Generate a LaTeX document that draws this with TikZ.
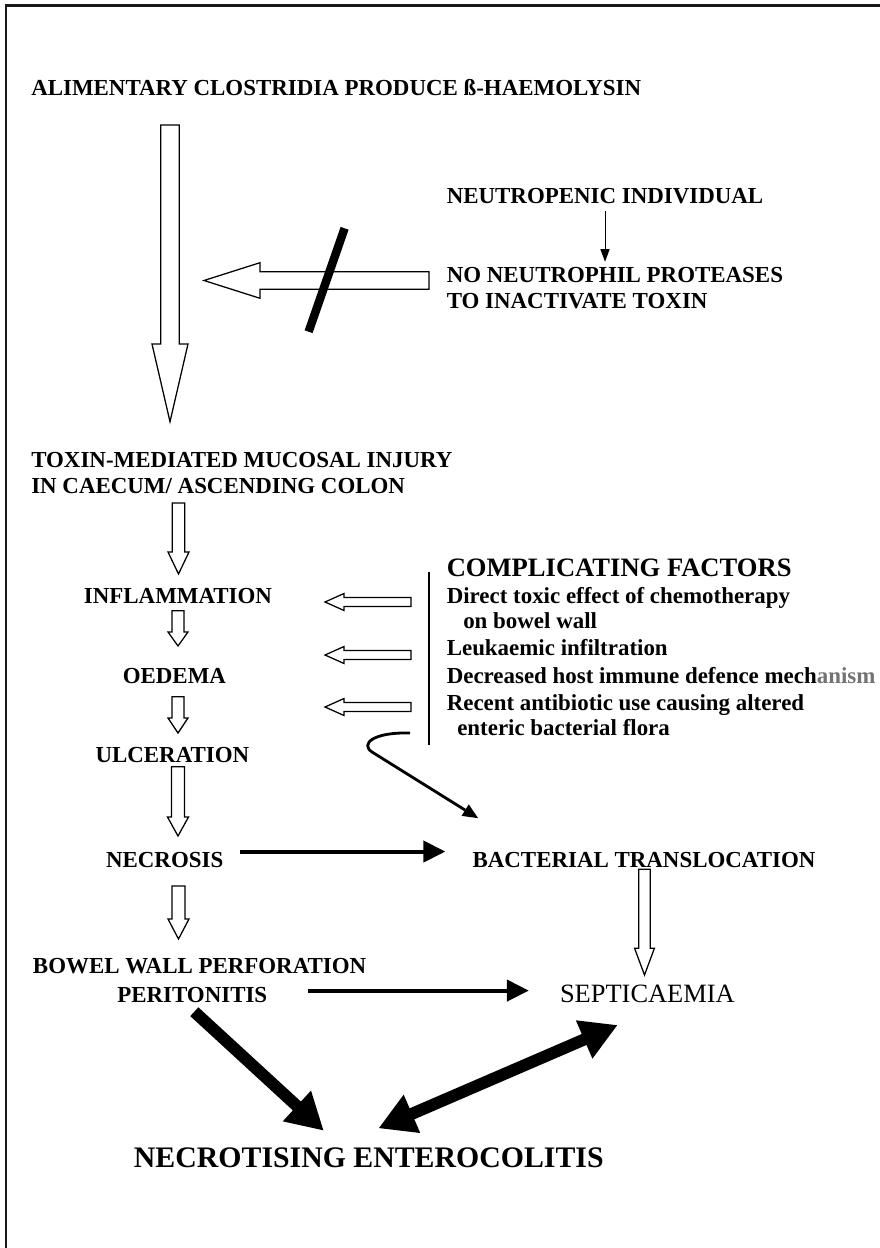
\documentclass[tikz,border=0pt]{standalone}
\usepackage{fontspec}
\usepackage{xcolor}
\setmainfont{Liberation Serif}
\usetikzlibrary{calc,arrows.meta}

% outline block arrow: start, tip, shaft half width, head half width, head length (px)
\newcommand{\hollowarrow}[5]{%
  \coordinate (ha) at ($(#2)!#5*0.025cm!(#1)$);
  \draw[hollow] ($(#1)!#3*0.025cm!90:(#2)$) -- ($(ha)!#3*0.025cm!90:(#2)$)
    -- ($(ha)!#4*0.025cm!90:(#2)$) -- (#2) -- ($(ha)!#4*0.025cm!-90:(#2)$)
    -- ($(ha)!#3*0.025cm!-90:(#2)$) -- ($(#1)!#3*0.025cm!-90:(#2)$) -- cycle;
}

\begin{document}
\begin{tikzpicture}[x=0.025cm, y=-0.025cm,
  lab/.style={font=\fontsize{16.3}{19}\selectfont\bfseries, inner sep=0pt},
  bigtitle/.style={font=\fontsize{18.9}{22}\selectfont\bfseries, inner sep=0pt},
  hollow/.style={draw=black, fill=white, line width=0.9pt, line join=miter},
  thinarrow/.style={line width=0.7pt, -{Triangle[length=9pt,width=6.5pt]}},
  medarrow/.style={line width=2.8pt, -{Triangle[length=15.6pt,width=15pt]}},
  fatarrow/.style={line width=8.5pt, -{Triangle[length=26pt,width=27.7pt]}},
  fatboth/.style={line width=8.5pt, {Triangle[length=26pt,width=27.7pt]}-{Triangle[length=26pt,width=27.7pt]}},
  curvearrow/.style={line width=2pt, -{Triangle[length=11pt,width=9pt]}}]

\useasboundingbox (0,0) rectangle (880,1248);
\draw[line width=1.8pt, black!90] (880,5.3) -- (6.2,5.3) -- (6.2,1248);

\node[lab, anchor=base west] (clos) at (31,96) {ALIMENTARY CLOSTRIDIA PRODUCE ß-HAEMOLYSIN};
\node[lab, anchor=base west] (neut) at (446.5,203) {NEUTROPENIC INDIVIDUAL};
\node[lab, anchor=base west] (noprot) at (446.5,282) {NO NEUTROPHIL PROTEASES};
\node[lab, anchor=base west] (inact) at (446.5,308) {TO INACTIVATE TOXIN};
\node[lab, anchor=base west] (toxin) at (31,467) {TOXIN-MEDIATED MUCOSAL INJURY};
\node[lab, anchor=base west] (caecum) at (31,493) {IN CAECUM/ ASCENDING COLON};
\node[lab, anchor=base] (infl) at (178,603) {INFLAMMATION};
\node[lab, anchor=base] (oed) at (174.4,683) {OEDEMA};
\node[lab, anchor=base] (ulc) at (172.4,762) {ULCERATION};
\node[lab, anchor=base] (necr) at (164.7,867) {NECROSIS};
\node[lab, anchor=base] (bact) at (644,867) {BACTERIAL TRANSLOCATION};
\node[lab, anchor=base west] (bowel) at (32.7,973) {BOWEL WALL PERFORATION};
\node[lab, anchor=base] (perit) at (192.3,1002) {PERITONITIS};
\node[font=\fontsize{18.8}{22}\selectfont, inner sep=0pt, anchor=base] (sept) at (647.4,1002) {SEPTICAEMIA};
\node[font=\fontsize{21.2}{25}\selectfont\bfseries, inner sep=0pt, anchor=base] (nec) at (368.8,1167) {NECROTISING ENTEROCOLITIS};

\node[bigtitle, anchor=base west] (compl) at (446.5,576) {COMPLICATING FACTORS};
\node[lab, anchor=base west] (f1) at (446.5,603) {Direct toxic effect of chemotherapy};
\node[lab, anchor=base west] (f1b) at (463,628) {on bowel wall};
\node[lab, anchor=base west] (f2) at (446.5,655) {Leukaemic infiltration};
\node[lab, anchor=base west] (f3) at (446.5,683) {Decreased host immune defence mech{\color{black!55}anism}};
\node[lab, anchor=base west] (f4) at (446.5,710) {Recent antibiotic use causing altered};
\node[lab, anchor=base west] (f4b) at (457,735) {enteric bacterial flora};
\draw[line width=0.8pt] (429,571.7) -- (429,745);

% block arrows
\coordinate (clos-s) at (170,125);
\coordinate (toxin-n) at (170,421.7);
\hollowarrow{clos-s}{toxin-n}{9.3}{18}{77.7}
\coordinate (prot-w) at (429,280.5);
\coordinate (main-e) at (204,280.5);
\hollowarrow{prot-w}{main-e}{8.8}{17.8}{56}
\draw[line width=6pt] (344.6,228.3) -- (308.6,331.7);
\draw[thinarrow, shorten <=5.5pt, shorten >=3.4pt] (neut.south) -- (neut.south |- noprot.north);

\coordinate (caecum-s) at (178.5,503);
\coordinate (infl-n) at (178.5,574);
\hollowarrow{caecum-s}{infl-n}{6.2}{10.5}{22}
\coordinate (infl-s) at (178,610.7);
\coordinate (oed-n) at (178,646);
\hollowarrow{infl-s}{oed-n}{6}{10}{14}
\coordinate (oed-s) at (178,696.7);
\coordinate (ulc-n) at (178,733);
\hollowarrow{oed-s}{ulc-n}{6}{10}{15}
\coordinate (ulc-s) at (178,766.7);
\coordinate (necr-n) at (178,836);
\hollowarrow{ulc-s}{necr-n}{6.5}{10.5}{19}
\coordinate (necr-s) at (178.5,886);
\coordinate (bowel-n) at (178.5,939);
\hollowarrow{necr-s}{bowel-n}{6.5}{10.5}{20}
\coordinate (bact-s) at (644.5,869.3);
\coordinate (sept-n) at (644.5,975);
\hollowarrow{bact-s}{sept-n}{5.7}{9.9}{26.7}

\coordinate (f1-w) at (411,602);
\coordinate (infl-e) at (325,602);
\hollowarrow{f1-w}{infl-e}{4.5}{8.5}{19}
\coordinate (f2-w) at (411,655);
\coordinate (oed-e) at (325,655);
\hollowarrow{f2-w}{oed-e}{4.5}{8.5}{19}
\coordinate (f4-w) at (411,707);
\coordinate (ulc-e) at (325,707);
\hollowarrow{f4-w}{ulc-e}{4.5}{8.5}{19}

% black arrows
\coordinate (cf-s) at (410,733);
\coordinate (bact-nw) at (478.3,818.3);
\draw[curvearrow] (cf-s) .. controls (373,732) and (360,744) .. (372,752) -- (bact-nw);
\draw[medarrow, shorten <=12pt, shorten >=19.2pt] (necr.north east) -- (bact.north west);
\draw[medarrow, shorten <=29pt, shorten >=22pt] ([yshift=2.8pt]perit.east) -- ([yshift=2.8pt]perit.east -| sept.west);
\coordinate (perit-out) at (194.3,1011.7);
\coordinate (nec-in) at (323.8,1130.7);
\draw[fatarrow] (perit-out) -- (nec-in);
\coordinate (nec-out) at (378.4,1128.3);
\coordinate (sept-in) at (617.7,1025);
\draw[fatboth] (nec-out) -- (sept-in);
\end{tikzpicture}
\end{document}
